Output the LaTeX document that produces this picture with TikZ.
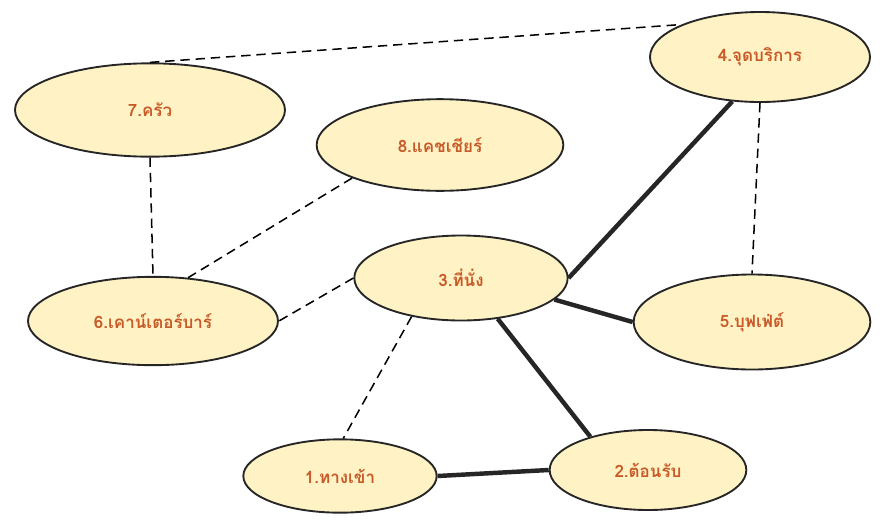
\documentclass[tikz,border=0pt]{standalone}
\usepackage{fontspec}
\newfontfamily\thaifont[Script=Thai]{Loma}
\usetikzlibrary{shapes.geometric}
\definecolor{zonefill}{RGB}{255,242,196}
\definecolor{zonetext}{RGB}{200,90,40}
\tikzset{
  zone/.style={ellipse,draw=black!85,line width=1.6pt,fill=zonefill,inner sep=0pt,
    text=zonetext,font=\thaifont\bfseries\fontsize{14.5}{16}\selectfont},
  weak/.style={dashed,line width=1.3pt,dash pattern=on 8pt off 5pt},
  strong/.style={line width=3.8pt,black!85}
}
\begin{document}
\begin{tikzpicture}[x=0.03cm,y=-0.03cm]
  \useasboundingbox (0,0) rectangle (882,519);
  \node[zone,minimum width=8.1cm,minimum height=2.8cm] (kitchen) at (150,110) {7.ครัว};
  \node[zone,minimum width=7.4cm,minimum height=2.75cm] (cashier) at (440,145) {8.แคชเชียร์};
  \node[zone,minimum width=6.6cm,minimum height=2.7cm] (service) at (760,57) {4.จุดบริการ};
  \node[zone,minimum width=6.4cm,minimum height=2.55cm] (seating) at (461,278) {3.ที่นั่ง};
  \node[zone,minimum width=7.5cm,minimum height=2.65cm] (bar) at (153,321) {6.เคาน์เตอร์บาร์};
  \node[zone,minimum width=7.1cm,minimum height=2.85cm] (buffet) at (752,322) {5.บุฟเฟ่ต์};
  \node[zone,minimum width=5.8cm,minimum height=2.2cm] (entry) at (340,476) {1.ทางเข้า};
  \node[zone,minimum width=5.9cm,minimum height=2.4cm] (reception) at (648,470) {2.ต้อนรับ};
  \draw[weak] (kitchen.north)--(service.north west);
  \draw[weak] (kitchen.south)--(bar.north);
  \draw[weak] (cashier.south west)--(bar.51);
  \draw[weak] (seating.west)--(bar.east);
  \draw[weak] (seating.218)--(entry.85);
  \draw[weak] (service.south)--(buffet.north);
  \draw[strong] (service.238)--(seating.east);
  \draw[strong] (seating.347)--(buffet.west);
  \draw[strong] (seating.312)--(reception.150);
  \draw[strong] (entry.east)--(reception.west);
\end{tikzpicture}
\end{document}
